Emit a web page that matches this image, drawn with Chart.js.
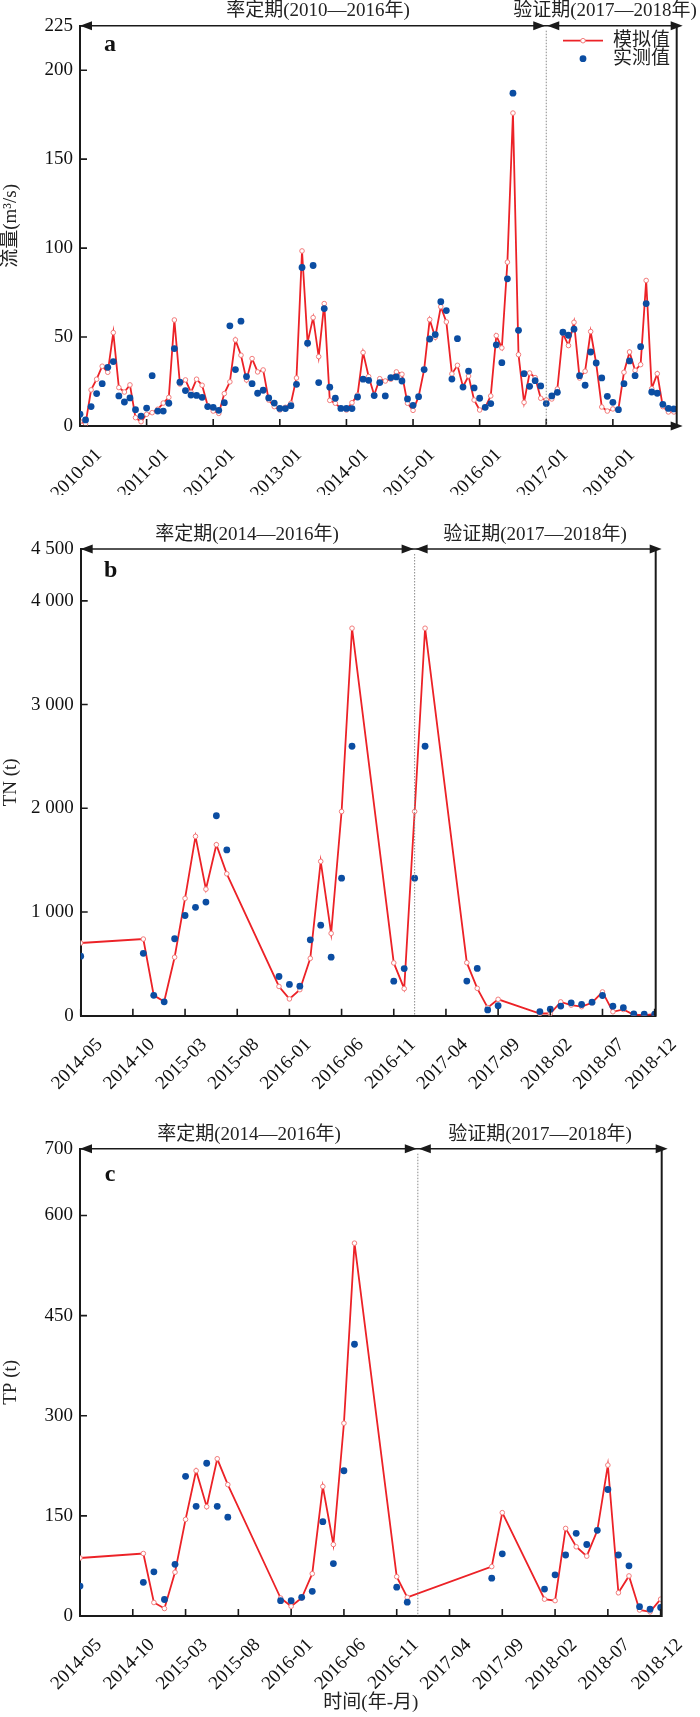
<!DOCTYPE html>
<html>
<head>
<meta charset="utf-8">
<script src="https://cdn.jsdelivr.net/npm/chart.js@4.4.1/dist/chart.umd.min.js"></script>
<style>
body{margin:0;background:#fff;width:700px;height:1717px;position:relative;overflow:hidden}
canvas{position:absolute;left:0}
</style>
</head>
<body>
<canvas id="chartA" width="700" height="495" style="top:0px"></canvas>
<canvas id="chartB" width="700" height="605" style="top:500px"></canvas>
<canvas id="chartC" width="700" height="609" style="top:1108px"></canvas>
<script>

// a: monthly flow 2010-01 .. 2018-12 (index 0 = 2010-01)
let flowSim = [2.5,1.3,20.3,26.3,33.6,30.2,52.5,21.6,19.1,23.1,4.7,2.4,
6.6,7.5,9.4,12.9,16.1,59.6,23.6,25.9,18.9,26.3,22.9,11.5,
8.4,7.1,18.2,24.8,48.4,39.8,25.9,37.9,30.4,31.5,14.6,10.9,
9.0,10.5,12.8,27.0,98.4,47,60.9,39.0,68.8,14.4,12.8,9.9,
9.0,13.1,17.4,41.3,27.8,17.4,26.6,25.3,26.3,30.4,29.1,12.8,
8.8,16.5,31.7,59.8,49.9,67,58.5,29.3,34.1,22.1,28.1,14.6,
9.0,10.5,16.9,50.8,43.9,92.1,175.9,40.1,13.3,29.8,27.2,15.6,
14.6,15.2,20.8,52,45.2,58.3,27.0,30.8,53.1,35,10.7,8.4,
9.6,9.5,30.2,41.6,31.3,34.5,81.8,21,29.4,10.9,7.9,7.9]

let flowObs = [6.6,3.4,10.9,18.2,23.8,33.0,36.2,16.9,13.5,15.8,9.2,5.6,
10.1,28.3,8.4,8.4,12.8,43.5,24.6,19.9,17.4,17.2,16.1,10.9,
10.5,8.8,13.1,56.3,31.7,58.9,27.8,23.8,18.4,20.1,15.8,12.9,
9.9,9.8,11.4,23.4,89.1,46.5,90.2,24.4,66.0,21.8,15.6,9.9,
9.9,9.8,16.3,26.3,25.7,17.1,24.4,16.9,27.2,27.6,25.3,15.2,
11.6,16.5,31.7,48.9,51.4,69.9,64.9,26.4,49.1,21.9,30.9,21.4,
15.6,10.5,12.6,45.6,35.6,82.7,187.1,53.8,29.4,22.3,25.5,22.5,
12.6,16.9,18.9,52.7,51.0,54.4,28.3,22.9,41.6,35.4,27.0,16.7,
13.3,9.2,23.8,36.6,28.3,44.6,68.8,19.1,18.4,12.2,9.9,9.6]

let xTicksA = [0,12,24,36,48,60,72,84,96]
let xLabelsA = ["2010-01","2011-01","2012-01","2013-01","2014-01","2015-01","2016-01","2017-01","2018-01"]
let yTicksA = [0,50,100,150,200,225]
let yLabelsA = ["0","50","100","150","200","225"]

// b: TN
let monthsB = ["2014-05","2014-11","2014-12","2015-01","2015-02","2015-03","2015-04","2015-05","2015-06","2015-07",
"2015-12","2016-01","2016-02","2016-03","2016-04","2016-05","2016-06","2016-07","2016-11","2016-12",
"2017-01","2017-02","2017-06","2017-07","2017-08","2017-09",
"2018-01","2018-02","2018-03","2018-04","2018-05","2018-06","2018-07","2018-08","2018-09","2018-10","2018-11","2018-12"]
let tnSim = [701,739,196,137,564,1131,1729,1220,1649,1368,
282,162,251,553,1488,794,1969,3736,509,261,
1969,3736,511,264,78,158,
21,21,133,102,87,125,229,38,60,9,6,14]
let tnObs = [574,601,196,134,742,966,1045,1096,1928,1598,
378,302,285,732,873,564,1326,2598,333,454,
1326,2598,334,456,56,96,
40,62,93,124,108,130,195,92,77,17,15,15]

// c: TP
let monthsC = ["2014-05","2014-11","2014-12","2015-01","2015-02","2015-03","2015-04","2015-05","2015-06","2015-07",
"2015-12","2016-01","2016-02","2016-03","2016-04","2016-05","2016-06","2016-07","2016-11","2016-12",
"2017-08","2017-09",
"2018-01","2018-02","2018-03","2018-04","2018-05","2018-06","2018-07","2018-08","2018-09","2018-10","2018-11","2018-12"]
let tpSim = [86.9,93.6,20.2,11.2,65.6,144.7,217.6,163.7,235.5,196.8,
26.9,14.6,26.9,63.4,194.0,107.1,288.8,558.5,58.9,28.0,
74.0,154.8,
25.2,23.0,131.2,103.7,89.7,128,226.0,34.8,60.0,9.0,6.2,25.2]
let tpObs = [44.9,50.5,66.2,24.7,77.4,209.2,164.3,228.8,164.3,148.0,
23.0,23.0,28.0,37.0,141.3,78.5,217.6,407.1,43.2,20.7,
56.6,93.1,
40.4,61.7,91.4,123.9,107.1,128.4,189.5,91.4,75.1,14.0,10.1,12.9]

let xTicksBC = [0,5,10,15,20,25,30,35,40,45,50,55]
let xLabelsBC = ["2014-05","2014-10","2015-03","2015-08","2016-01","2016-06","2016-11","2017-04","2017-09","2018-02","2018-07","2018-12"]
let yTicksB = [0,1000,2000,3000,4000,4500]
let yLabelsB = ["0","1 000","2 000","3 000","4 000","4 500"]
let yTicksC = [0,150,300,450,600,700]
let yLabelsC = ["0","150","300","450","600","700"]


const FONT = "'Liberation Serif', 'Noto Sans CJK SC', serif"

function monthIndex(s){
let p = s.split("-")
return (Number(p[0]) - 2014) * 12 + Number(p[1]) - 5
}

function arrow(ctx, x, y, dir){
ctx.beginPath()
ctx.moveTo(x, y)
ctx.lineTo(x - dir * 12, y - 4.5)
ctx.lineTo(x - dir * 12, y + 4.5)
ctx.closePath()
ctx.fill()
}

const frame = {
id: "frame",
afterDatasetsDraw(chart, args, o){
let ctx = chart.ctx
let ca = chart.chartArea
let xs = chart.scales.x
let ys = chart.scales.y
ctx.save()
ctx.strokeStyle = "#1a1a1a"
ctx.fillStyle = "#1a1a1a"

// inward ticks
ctx.lineWidth = 1.6
ctx.beginPath()
xs.ticks.forEach(t => {
let px = xs.getPixelForValue(t.value)
ctx.moveTo(px, ca.bottom)
ctx.lineTo(px, ca.bottom - 7)
})
ys.ticks.forEach(t => {
let py = ys.getPixelForValue(t.value)
ctx.moveTo(ca.left, py)
ctx.lineTo(ca.left + 7, py)
})
ctx.stroke()

// right axis
ctx.lineWidth = 2
ctx.beginPath()
ctx.moveTo(ca.right, ca.top)
ctx.lineTo(ca.right, ca.bottom + 1)
ctx.stroke()

// period line on top
let sx = xs.getPixelForValue(o.split)
let endX = ca.right + 6
ctx.lineWidth = 1.5
ctx.beginPath()
ctx.moveTo(ca.left, ca.top)
ctx.lineTo(endX - 4, ca.top)
ctx.stroke()
arrow(ctx, ca.left, ca.top, -1)
arrow(ctx, sx - 1, ca.top, 1)
arrow(ctx, sx + 1, ca.top, -1)
arrow(ctx, endX, ca.top, 1)

if(o.bottomArrow){
ctx.lineWidth = 2
ctx.beginPath()
ctx.moveTo(ca.right, ca.bottom)
ctx.lineTo(endX - 4, ca.bottom)
ctx.stroke()
arrow(ctx, endX, ca.bottom, 1)
}

// split line
ctx.strokeStyle = "#8a8a8a"
ctx.lineWidth = 1
ctx.setLineDash([1.5, 1.5])
ctx.beginPath()
ctx.moveTo(sx, ca.top + 5)
ctx.lineTo(sx, ca.bottom)
ctx.stroke()
ctx.setLineDash([])

// texts
ctx.fillStyle = "#222"
ctx.textBaseline = "middle"
ctx.textAlign = "center"
ctx.font = "19px " + FONT
ctx.fillText(o.leftText, o.leftTextX, ca.top - o.textGap)
ctx.fillText(o.rightText, o.rightTextX, ca.top - o.textGap)

ctx.fillStyle = "#111"
ctx.font = "bold 24px " + FONT
ctx.fillText(o.letter, ca.left + 30, ca.top + o.letterGap)

if(o.legend){
let lx = 563, ly = ca.top + 15
ctx.strokeStyle = "#ec2227"
ctx.lineWidth = 1.8
ctx.beginPath()
ctx.moveTo(lx, ly)
ctx.lineTo(lx + 40, ly)
ctx.stroke()
ctx.fillStyle = "#fff"
ctx.strokeStyle = "#f27b7b"
ctx.lineWidth = 1
ctx.beginPath()
ctx.arc(lx + 20, ly, 2.3, 0, Math.PI * 2)
ctx.fill()
ctx.stroke()
ctx.fillStyle = "#0b4da2"
ctx.beginPath()
ctx.arc(lx + 20, ly + 18, 3.4, 0, Math.PI * 2)
ctx.fill()
ctx.fillStyle = "#222"
ctx.textAlign = "left"
ctx.font = "19px " + FONT
ctx.fillText("模拟值", lx + 50, ly)
ctx.fillText("实测值", lx + 50, ly + 18)
}
ctx.restore()
}
}


function makePanel(id, o){

let tickFont = {family: FONT, size: 19}

return new Chart(document.getElementById(id),{

type:"line",

data:{
datasets:[
{
label:"实测值",
data:o.obs,
showLine:false,
pointRadius:3.4,
pointBackgroundColor:"#0b4da2",
pointBorderWidth:0
},
{
label:"模拟值",
data:o.sim,
borderColor:"#ec2227",
borderWidth:1.8,
pointRadius:2.3,
pointBackgroundColor:"#fff",
pointBorderColor:"#f27b7b",
pointBorderWidth:1,
tension:0
}
]
},

options:{
responsive:false,
animation:false,
events:[],
layout:{padding:{top:o.top, right:700 - o.right, left:0, bottom:0}},
plugins:{
legend:{display:false},
tooltip:{enabled:false},
frame:o.frame
},
scales:{
x:{
type:"linear",
min:0,
max:o.xMax,
grid:{display:false, drawTicks:false},
border:{display:true, color:"#1a1a1a", width:2},
afterBuildTicks:s => { s.ticks = o.xTicks.map(v => ({value:v})) },
afterFit:s => { s.height = o.xh; s.paddingLeft = 0; s.paddingRight = 0 },
ticks:{
autoSkip:false,
minRotation:45,
maxRotation:45,
padding:18,
labelOffset:19,
color:"#111",
font:tickFont,
callback:(v,i) => o.xLabels[i]
},
title:o.xTitle ? {display:true, text:o.xTitle, color:"#222", font:tickFont, padding:{top:0, bottom:3}} : {display:false}
},
y:{
min:0,
max:o.yMax,
grid:{display:false, drawTicks:false},
border:{display:true, color:"#1a1a1a", width:2},
afterBuildTicks:s => { s.ticks = o.yTicks.map(v => ({value:v})) },
afterFit:s => { s.width = o.left; s.paddingTop = 0; s.paddingBottom = 0 },
ticks:{
padding:7,
color:"#111",
font:tickFont,
callback:(v,i) => o.yLabels[i]
},
title:{display:true, text:o.yTitle, color:"#222", font:tickFont, padding:{top:0, bottom:0}}
}
}
},

plugins:[frame]

})

}


makePanel("chartA",{
sim:flowSim.map((v,i) => ({x:i, y:v})),
obs:flowObs.map((v,i) => ({x:i, y:v})),
top:25.7, right:676.7, left:80, xh:69,
xMax:107.5, xTicks:xTicksA, xLabels:xLabelsA,
yMax:225, yTicks:yTicksA, yLabels:yLabelsA,
yTitle:"流量(m³/s)",
frame:{split:84, leftText:"率定期(2010—2016年)", leftTextX:318, rightText:"验证期(2017—2018年)", rightTextX:605,
textGap:15, letter:"a", letterGap:19, legend:true, bottomArrow:true}
})

makePanel("chartB",{
sim:monthsB.map((m,i) => ({x:monthIndex(m), y:tnSim[i]})),
obs:monthsB.map((m,i) => ({x:monthIndex(m), y:tnObs[i]})),
top:49, right:655.7, left:80.7, xh:89.3,
xMax:55.1, xTicks:xTicksBC, xLabels:xLabelsBC,
yMax:4500, yTicks:yTicksB, yLabels:yLabelsB,
yTitle:"TN (t)",
frame:{split:32, leftText:"率定期(2014—2016年)", leftTextX:247, rightText:"验证期(2017—2018年)", rightTextX:535,
textGap:14, letter:"b", letterGap:22, legend:false, bottomArrow:false}
})

makePanel("chartC",{
sim:monthsC.map((m,i) => ({x:monthIndex(m), y:tpSim[i]})),
obs:monthsC.map((m,i) => ({x:monthIndex(m), y:tpObs[i]})),
top:40.7, right:661.7, left:80, xh:101,
xMax:55.1, xTicks:xTicksBC, xLabels:xLabelsBC,
yMax:700, yTicks:yTicksC, yLabels:yLabelsC,
yTitle:"TP (t)", xTitle:"时间(年-月)",
frame:{split:32, leftText:"率定期(2014—2016年)", leftTextX:249, rightText:"验证期(2017—2018年)", rightTextX:540,
textGap:14, letter:"c", letterGap:26, legend:false, bottomArrow:false}
})

</script>
</body>
</html>
